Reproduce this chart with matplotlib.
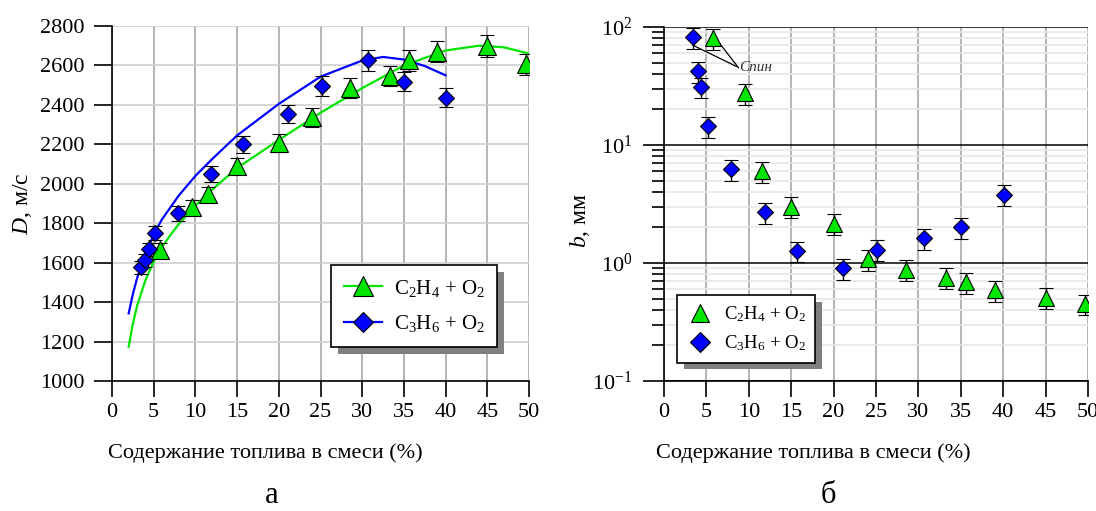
# -*- coding: utf-8 -*-
import numpy as np
import matplotlib
matplotlib.use('Agg')
import matplotlib.pyplot as plt
from matplotlib.lines import Line2D
from matplotlib import patheffects as pe
from matplotlib.ticker import LogLocator, NullFormatter, FixedLocator

plt.rcParams['font.family'] = ['Liberation Serif', 'DejaVu Serif']
plt.rcParams['mathtext.fontset'] = 'custom'
plt.rcParams['mathtext.rm'] = 'Liberation Serif'
plt.rcParams['mathtext.it'] = 'Liberation Serif:italic'
plt.rcParams['axes.unicode_minus'] = False

# composition, %
x_c2h4 = [5.8, 9.6, 11.5, 15.0, 20.0, 24.0, 28.5, 33.3, 35.6, 39.0, 45.0, 49.6]
x_c3h6 = [3.45, 4.0, 4.4, 5.13, 7.95, 11.9, 15.65, 21.1, 25.15, 30.7, 35.0, 40.1]

# detonation velocity D, m/s
D_c2h4 = [1665, 1880, 1946, 2090, 2208, 2337, 2487, 2546, 2627, 2670, 2698, 2605]
D_c2h4_err = [35, 38, 40, 42, 45, 47, 50, 51, 53, 53, 54, 52]
D_c3h6 = [1576, 1613, 1668, 1749, 1850, 2050, 2200, 2354, 2497, 2627, 2518, 2437]
D_c3h6_err = [32, 33, 34, 35, 37, 41, 44, 47, 50, 53, 50, 49]

# fitted curves
fit_c2h4_x = [2, 2.5, 3, 4, 5, 6, 7, 8, 10, 12, 15, 20, 25, 30, 35, 40, 44, 47, 50]
fit_c2h4_y = [1174, 1290, 1380, 1510, 1605, 1680, 1740, 1795, 1890, 1970, 2080,
              2222, 2360, 2485, 2600, 2676, 2700, 2692, 2660]
fit_c3h6_x = [2, 2.5, 3, 3.5, 4, 5, 6, 8, 10, 12, 15, 20, 25, 30, 32.5, 35, 37.5, 40]
fit_c3h6_y = [1343, 1440, 1520, 1585, 1640, 1745, 1820, 1940, 2040, 2125, 2245,
              2405, 2543, 2625, 2643, 2630, 2597, 2550]

# cell size b, mm
b_c2h4 = [80, 27.5, 6.0, 3.0, 2.16, 1.08, 0.88, 0.75, 0.69, 0.59, 0.51, 0.45]
b_c2h4_err = [16, 5.5, 1.2, 0.6, 0.43, 0.22, 0.18, 0.15, 0.14, 0.12, 0.10, 0.09]
b_c3h6 = [81.6, 42, 31, 14.4, 6.2, 2.7, 1.26, 0.90, 1.30, 1.62, 2.0, 3.8]
b_c3h6_err = [16, 8.4, 6.2, 2.9, 1.2, 0.54, 0.25, 0.18, 0.26, 0.32, 0.4, 0.76]

b_ticks = [0.1, 1, 10, 100]
b_ticklabels = [r'10$^{\mathregular{-1}}$', r'10$^{0}$', r'10$^{1}$', r'10$^{2}$']

lab_c2h4 = r'C$_2$H$_4$ + O$_2$'
lab_c3h6 = r'C$_3$H$_6$ + O$_2$'
xlab = 'Содержание топлива в смеси (%)'

green = '#00e600'
blue = '#0000ff'

W, H = 1096, 511
fig = plt.figure(figsize=(W / 100, H / 100), dpi=100)


def px(x0, y0, x1, y1):
  return [x0 / W, 1 - y1 / H, (x1 - x0) / W, (y1 - y0) / H]


def style(ax):
  for s in ['top', 'right']:
    ax.spines[s].set_visible(False)
  for s in ['left', 'bottom']:
    ax.spines[s].set_linewidth(1.2)
  ax.set_axisbelow(True)
  ax.set_xlim(0, 50)
  ax.set_xticks(np.arange(0, 51, 5))
  ax.tick_params(axis='x', direction='out', length=11.5, width=1.2, labelsize=16, pad=4)
  ax.grid(axis='x', color='#a8a8a8', lw=1.2)


def shadow(leg):
  leg.get_frame().set_linewidth(1.2)
  leg.get_frame().set_path_effects([pe.SimplePatchShadow(offset=(5, -5), shadow_rgbFace='#808080', alpha=1),
                                    pe.Normal()])


# ---------- a ----------
ax1 = fig.add_axes(px(112, 26, 529, 381))
style(ax1)
ax1.set_ylim(1000, 2800)
ax1.set_yticks(np.arange(1000, 2801, 200))
ax1.tick_params(axis='y', direction='out', length=13, width=1.2, labelsize=16, pad=7)
ax1.grid(axis='y', color='#d0d0d0', lw=1.2)

ax1.plot(fit_c2h4_x, fit_c2h4_y, color=green, lw=1.6, zorder=2)
ax1.plot(fit_c3h6_x, fit_c3h6_y, color=blue, lw=1.6, zorder=2)
ax1.errorbar(x_c2h4, D_c2h4, yerr=D_c2h4_err, fmt='^', ms=12.5, mfc=green, mec='black',
             mew=0.8, ecolor='black', elinewidth=1, capsize=5, capthick=1, zorder=3)
ax1.errorbar(x_c3h6, D_c3h6, yerr=D_c3h6_err, fmt='D', ms=8.5, mfc=blue, mec='black',
             mew=0.8, ecolor='black', elinewidth=1, capsize=5, capthick=1, zorder=3)

h1 = [Line2D([], [], color=green, lw=1.6, marker='^', ms=14, mfc=green, mec='black', mew=0.8),
      Line2D([], [], color=blue, lw=1.6, marker='D', ms=10, mfc=blue, mec='black', mew=0.8)]
leg1 = ax1.legend(h1, [lab_c2h4, lab_c3h6], loc='upper left',
                  bbox_to_anchor=(331 / W, 1 - 265 / H), bbox_transform=fig.transFigure,
                  fontsize=15, frameon=True, fancybox=False, edgecolor='black',
                  framealpha=1, borderaxespad=0, handlelength=1.85, labelspacing=0.7,
                  borderpad=0.6, handletextpad=0.55)
shadow(leg1)

fig.text(22 / W, 1 - 204 / H, r'$D$, м/с', rotation=90, ha='center', va='center', fontsize=17)
fig.text(265 / W, 1 - 453 / H, xlab, ha='center', va='center', fontsize=16)
fig.text(272 / W, 1 - 495 / H, 'а', ha='center', va='center', fontsize=22)

# ---------- б ----------
ax2 = fig.add_axes(px(664, 27, 1088, 381))
style(ax2)
ax2.set_yscale('log')
ax2.set_ylim(0.1, 100)
ax2.yaxis.set_major_locator(FixedLocator(b_ticks))
ax2.set_yticklabels(b_ticklabels)
ax2.yaxis.set_minor_locator(LogLocator(base=10, subs=np.arange(2, 10), numticks=10))
ax2.yaxis.set_minor_formatter(NullFormatter())
ax2.tick_params(axis='y', which='major', direction='out', length=15, width=1.2, labelsize=16, pad=8)
ax2.tick_params(axis='y', which='minor', direction='out', length=8.5, width=1.2)
ax2.grid(axis='y', which='major', color='black', lw=1.1)
ax2.grid(axis='y', which='minor', color='#e8e8e8', lw=1.2)

ax2.errorbar(x_c2h4, b_c2h4, yerr=b_c2h4_err, fmt='^', ms=12, mfc=green, mec='black',
             mew=0.8, ecolor='black', elinewidth=1, capsize=5, capthick=1, zorder=3)
ax2.errorbar(x_c3h6, b_c3h6, yerr=b_c3h6_err, fmt='D', ms=8.5, mfc=blue, mec='black',
             mew=0.8, ecolor='black', elinewidth=1, capsize=5, capthick=1, zorder=3)

ax2.annotate('Спин', xy=(3.42, 70), xytext=(8.9, 45), fontsize=11, style='italic',
             va='center', ha='left', color='#333333',
             arrowprops=dict(arrowstyle='-', color='black', lw=0.9, shrinkA=0, shrinkB=0,
                             relpos=(0, 0.5)))
ax2.annotate('', xy=(6.0, 82), xytext=(8.8, 45),
             arrowprops=dict(arrowstyle='-', color='black', lw=0.9, shrinkA=0, shrinkB=0))

h2 = [Line2D([], [], ls='none', marker='^', ms=13, mfc=green, mec='black', mew=0.8),
      Line2D([], [], ls='none', marker='D', ms=10, mfc=blue, mec='black', mew=0.8)]
leg2 = ax2.legend(h2, [lab_c2h4, lab_c3h6], loc='upper left',
                  bbox_to_anchor=(677 / W, 1 - 295 / H), bbox_transform=fig.transFigure,
                  fontsize=13.5, frameon=True, fancybox=False, edgecolor='black',
                  framealpha=1, borderaxespad=0, handlelength=1.4, labelspacing=0.5,
                  borderpad=0.5, handletextpad=0.6)
shadow(leg2)

fig.text(580 / W, 1 - 220 / H, r'$b$, мм', rotation=90, ha='center', va='center', fontsize=17)
fig.text(813 / W, 1 - 453 / H, xlab, ha='center', va='center', fontsize=16)
fig.text(828 / W, 1 - 495 / H, 'б', ha='center', va='center', fontsize=22)

fig.savefig('out.png', dpi=100)
